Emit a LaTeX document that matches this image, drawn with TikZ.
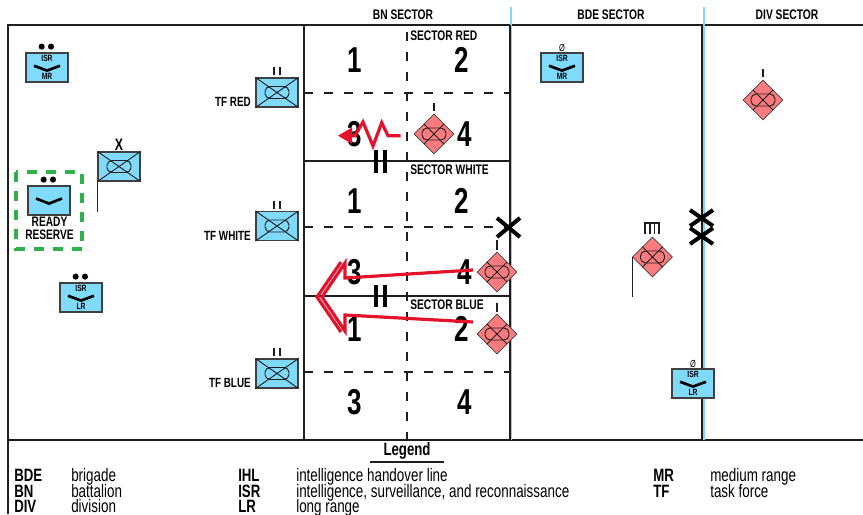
\documentclass[tikz,border=0pt]{standalone}
\usepackage{fontspec}
\setmainfont{Liberation Sans}
\newfontfamily\narrow[FakeStretch=0.74]{Liberation Sans}
\newfontfamily\narrownum[FakeStretch=0.72]{Liberation Sans}
\newcommand\narrowb{\narrow\bfseries}
\usetikzlibrary{shapes.geometric,arrows.meta}
\definecolor{unitblue}{HTML}{80DAFC}
\definecolor{enemyred}{HTML}{FB7B7E}
\definecolor{ihlblue}{HTML}{7FD8F5}
\definecolor{arrowred}{HTML}{E4132B}
\definecolor{resgreen}{HTML}{2FB24A}
\definecolor{ink}{HTML}{1E1E1E}
\tikzset{
  unitbox/.style={draw=ink!85,line width=0.8pt,fill=unitblue,minimum width=31.5pt,minimum height=21.75pt,inner sep=0pt},
  enemy/.style={diamond,aspect=1,draw=ink!85,line width=0.6pt,fill=enemyred,minimum size=30pt,inner sep=0pt},
  sym/.style={draw=ink,line width=0.7pt},
  frameline/.style={draw=ink,line width=1.2pt},
  ihl/.style={draw=ihlblue,line width=1.3pt},
  phase/.style={draw=ink,line width=0.8pt,dash pattern=on 6.5pt off 8.5pt},
  echelon/.style={draw=black,line width=3pt},
  hd/.style={inner sep=0pt,font=\narrowb\fontsize{10.4}{11}\selectfont},
  tiny/.style={inner sep=0pt,font=\narrowb\fontsize{6.8}{7}\selectfont},
  lbl/.style={inner sep=0pt,font=\narrowb\fontsize{10}{11}\selectfont},
  num/.style={inner sep=0pt,font=\narrownum\bfseries\fontsize{27}{29}\selectfont},
  leg/.style={inner sep=0pt,anchor=base west,font=\narrow\fontsize{13.6}{14}\selectfont},
  legb/.style={inner sep=0pt,anchor=base west,font=\narrowb\fontsize{13.4}{14}\selectfont},
  redline/.style={draw=arrowred,line width=2.4pt,line join=miter},
  chevron/.style={draw=black,line width=2pt},
}
\newcommand\armorsym[1]{
  \draw[sym] (#1.north west)--(#1.south east) (#1.south west)--(#1.north east);
  \draw[sym,rounded corners=3.8pt] ([xshift=-9pt,yshift=-4.5pt]#1.center) rectangle ([xshift=9pt,yshift=4.5pt]#1.center);
}
\newcommand\unitdots[2]{\fill[black] ([xshift=-4pt,yshift=#2]#1.north) circle (2.3pt) ([xshift=3pt,yshift=#2]#1.north) circle (2.3pt);}
\newcommand\isr[4]{% name, x, y, range
  \node[unitbox] (#1) at (#2,#3) {};
  \draw[chevron] ([xshift=-9.75pt,yshift=1.3pt]#1.center) -- ([yshift=-2.3pt]#1.center) -- ([xshift=9.75pt,yshift=1.3pt]#1.center);
  \node[tiny] (#1t) at ([yshift=6.6pt]#1.center) {ISR};
  \node[tiny] (#1b) at ([yshift=-6.4pt]#1.center) {#4};
}
\begin{document}
\begin{tikzpicture}[x=0.75pt,y=-0.75pt]
\useasboundingbox (0,0) rectangle (863,514);
% frame
\coordinate (tl) at (8,25); \coordinate (tr) at (863,25);
\coordinate (ml) at (8,440); \coordinate (mr) at (863,440);
\coordinate (bl) at (8,514);
\draw[frameline] (bl)--(tl)--(tr) (ml)--(mr);
% sector lines
\draw[ihl] (511,7)--(511,440);
\draw[ihl] (704,7)--(704,440);
\draw[frameline] (304,25)--(304,440);
\draw[frameline,line width=0.9pt] (510,25)--(510,440);
\draw[frameline,line width=1.4pt] (702,25)--(702,440);
\draw[frameline,line width=0.9pt] (304,161)--(510,161) (304,296)--(510,296);
\draw[phase] (407,32)--(407,440);
\draw[phase] (304,93)--(510,93) (304,227)--(510,227) (304,372)--(510,372);
% headers
\node[hd] (h1) at (403,15) {BN SECTOR};
\node[hd] (h2) at (611,15) {BDE SECTOR};
\node[hd] (h3) at (787,15) {DIV SECTOR};
\node[hd,anchor=west] (s1) at (410,36) {SECTOR RED};
\node[hd,anchor=west] (s2) at (410,170) {SECTOR WHITE};
\node[hd,anchor=west] (s3) at (410,305) {SECTOR BLUE};
% numbers
\foreach \n/\t/\x/\y in {a/1/355/60,b/2/462/60,c/3/355/134,d/4/465/134,e/1/355/201,f/2/462/201,g/3/355/272,h/4/465/272,i/1/355/329,j/2/462/329,k/3/355/402,l/4/465/402}
  \node[num] (n\n) at (\x,\y) {\t};
% echelon bars on sector lines
\draw[echelon] (376,150)--(376,173) (385,150)--(385,173);
\draw[echelon] (376,285)--(376,307) (385,285)--(385,307);
\draw[echelon] (497,218)--(520,237) (497,237)--(520,218);
\draw[echelon] (690,210)--(713,226) (690,226)--(713,210);
\draw[echelon] (690,228)--(713,244) (690,244)--(713,228);
% ISR units
\isr{isra}{47}{67.5}{MR}
\unitdots{isra}{4.4pt}
\isr{isrb}{81}{297.5}{LR}
\unitdots{isrb}{4.4pt}
\isr{isrc}{562}{67.5}{MR}
\node[inner sep=0pt,font=\narrow\fontsize{7.5}{8}\selectfont] (zc) at (562,48) {\O};
\isr{isrd}{693}{383.5}{LR}
\node[inner sep=0pt,font=\narrow\fontsize{7.5}{8}\selectfont] (zd) at (693,364) {\O};
% friendly armor
\node[unitbox] (tfr) at (277,92.5) {}; \armorsym{tfr}
\node[unitbox] (tfw) at (277,226) {}; \armorsym{tfw}
\node[unitbox] (tfb) at (277,373.5) {}; \armorsym{tfb}
\node[unitbox] (bde) at (119,166.5) {}; \armorsym{bde}
\draw[sym] (bde.south west)--++(0,30);
\node[lbl,anchor=east] (ltr) at (251,102) {TF RED};
\node[lbl,anchor=east] (ltw) at (251,236) {TF WHITE};
\node[lbl,anchor=east] (ltb) at (251,383) {TF BLUE};
\draw[sym,line width=1.3pt] (274,67)--(274,75) (280,67)--(280,75);
\draw[sym,line width=1.3pt] (274,201)--(274,209) (280,201)--(280,209);
\draw[sym,line width=1.3pt] (274,348)--(274,356) (280,348)--(280,356);
\node[lbl,font=\narrowb\fontsize{12.5}{13}\selectfont] (lx) at (119,145) {X};
% ready reserve
\node[unitbox] (res) at (49,200.5) {};
\draw[chevron] ([xshift=-9.75pt,yshift=1.5pt]res.center) -- ([yshift=-2.3pt]res.center) -- ([xshift=9.75pt,yshift=1.5pt]res.center);
\unitdots{res}{4.4pt}
\node[lbl,align=center,font=\narrowb\fontsize{10.3}{9.6}\selectfont] (rr) at (49.5,228.5) {READY\\RESERVE};
\draw[draw=resgreen,line width=2.4pt,dash pattern=on 7.5pt off 6.7pt] (16,172) rectangle (82,249);
% enemy
\foreach \n/\x/\y in {ea/434/134,eb/497/272,ec/497/334,ed/763/100,ee/652.5/257}{
  \node[enemy] (\n) at (\x,\y) {};
  \armorsym{\n}
}
\draw[sym,line width=1pt] (434,103)--(434,111);
\draw[sym,line width=1pt] (497,240)--(497,250);
\draw[sym,line width=1pt] (497,303)--(497,312);
\draw[sym,line width=1pt] (763,69)--(763,77);
\draw[sym,line width=0.8pt] (645,234)--(645,223)--(659,223)--(659,234) (650,223)--(650,234) (654.5,223)--(654.5,234);
\draw[sym] (ee.west)--++(0,40);
% red attack
\draw[redline] (400.5,135.7)--(388,135.7)--(381.7,122.7)--(373,146)--(363,122)--(355,135.7)--(348,135.7);
\fill[arrowred] (338,135.7)--(352,127.5)--(352,144)--cycle;
\draw[redline] (473,270)--(345,278)--(345,263)--(322,297)--(345,331)--(345,315)--(473,322);
\draw[redline] (341,262)--(317,297)--(341,332);
% legend
\node[inner sep=0pt,font=\narrowb\fontsize{13.4}{14}\selectfont] (lg) at (407,451) {Legend};
\coordinate (lga) at (370,462); \coordinate (lgb) at (444,462);
\draw[draw=ink,line width=0.9pt] (lga)--(lgb);
\foreach \n/\a/\t/\xa/\xb/\y in {
 p/BDE/brigade/14/71/481.5, q/BN/battalion/14/71/497, r/DIV/division/14/71/512,
 s/IHL/intelligence handover line/238/296/481.5, t/ISR/{intelligence, surveillance, and reconnaissance}/238/296/497, u/LR/long range/238/296/512,
 v/MR/medium range/653/710/481.5, w/TF/task force/653/710/497}{
  \node[legb] (a\n) at (\xa,\y) {\a};
  \node[leg] (b\n) at (\xb,\y) {\t};
}
\end{tikzpicture}
\end{document}
